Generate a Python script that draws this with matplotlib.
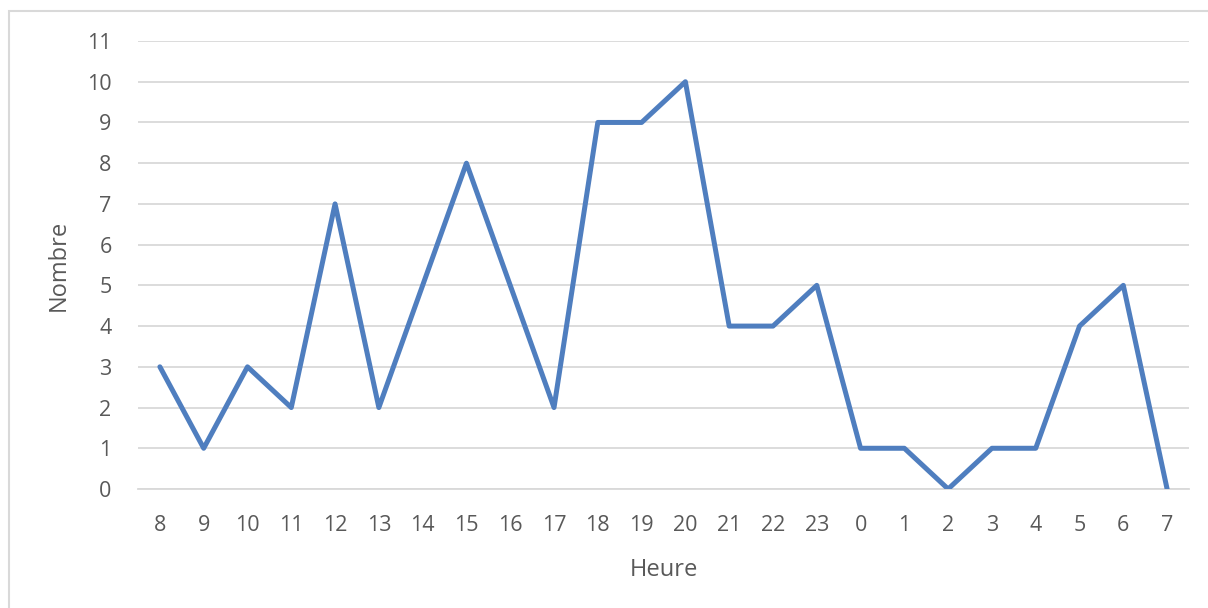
import matplotlib
matplotlib.use('Agg')
import matplotlib.pyplot as plt
from matplotlib.patches import Rectangle

heures = ['8', '9', '10', '11', '12', '13', '14', '15', '16', '17', '18', '19',
          '20', '21', '22', '23', '0', '1', '2', '3', '4', '5', '6', '7']
nombre = [3, 1, 3, 2, 7, 2, 5, 8, 5, 2, 9, 9, 10, 4, 4, 5, 1, 1, 0, 1, 1, 4, 5, 0]

plt.rcParams['font.family'] = ['Open Sans', 'DejaVu Sans']
txt = '#595959'
grid = '#D9D9D9'

fig = plt.figure(figsize=(12.08, 6.08), dpi=100)
fig.patches.append(Rectangle((8.5/1208, -0.1), 1.2, 1 - 11/608 + 0.1,
                             transform=fig.transFigure, fill=False,
                             edgecolor=grid, linewidth=1.5))

ax = fig.add_axes([138/1208, 1 - 489/608, 1051/1208, 448/608])
x = list(range(len(heures)))
ax.plot(x, nombre, color='#4F7EBF', linewidth=3.6, solid_joinstyle='round',
        solid_capstyle='round', zorder=3)

ax.set_xlim(-0.5, len(heures) - 0.5)
ax.set_ylim(0, 11)
ax.set_yticks(range(0, 12))
ax.set_xticks(x)
ax.set_xticklabels(heures)
ax.grid(axis='y', color=grid, linewidth=1.3)
ax.set_axisbelow(True)
for s in ['top', 'right', 'left']:
    ax.spines[s].set_visible(False)
ax.spines['bottom'].set_color(grid)
ax.spines['bottom'].set_linewidth(1.3)
ax.tick_params(length=0, labelsize=15.5, colors=txt)
ax.tick_params(axis='x', pad=18.5)
ax.tick_params(axis='y', pad=19)

ax.set_xlabel('Heure', fontsize=17, color=txt, labelpad=16)
ax.set_ylabel('Nombre', fontsize=17, color=txt, labelpad=12)

fig.savefig('out.png', dpi=100)
